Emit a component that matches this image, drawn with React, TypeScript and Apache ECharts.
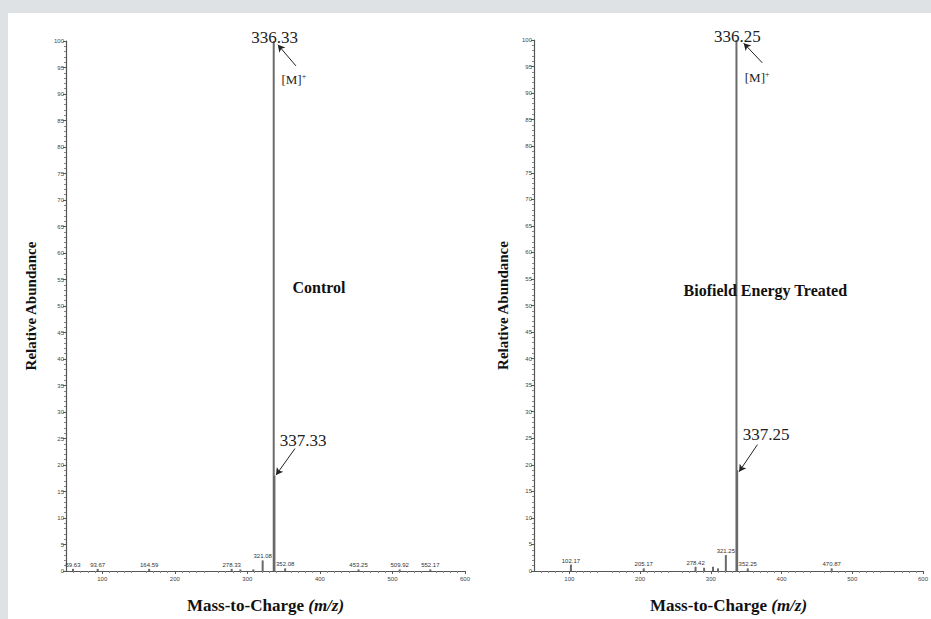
import { useEffect, useRef } from "react";
import * as echarts from "echarts";

// ---------- data ----------
const xTickValues = [100, 200, 300, 400, 500, 600];

// Control spectrum
const controlMz = [59.63, 93.67, 164.59, 278.33, 290.4, 308.2, 321.08, 336.33, 337.33, 352.08, 453.25, 509.92, 552.17];
const controlAbundance = [0.4, 0.4, 0.4, 0.4, 0.3, 0.3, 2.0, 100, 18, 0.5, 0.3, 0.3, 0.3];
const controlSmallLabels = [59.63, 93.67, 164.59, 278.33, 321.08, 352.08, 453.25, 509.92, 552.17];
const controlMain = 336.33;
const controlIsotope = 337.33;

// Biofield Energy Treated spectrum
const treatedMz = [102.17, 205.17, 278.42, 290.5, 303.1, 310.2, 321.25, 336.25, 337.25, 352.25, 470.87];
const treatedAbundance = [1.2, 0.5, 0.8, 0.6, 0.8, 0.5, 3.0, 100, 19, 0.5, 0.5];
const treatedSmallLabels = [102.17, 205.17, 278.42, 321.25, 352.25, 470.87];
const treatedMain = 336.25;
const treatedIsotope = 337.25;

// annotation anchors (data coordinates)
const controlArrowM = [[367, 95.3], [342, 99.3]];
const controlMLabel = [364, 92.7];
const controlIsoArrow = [[365.6, 23.1], [339.5, 18.1]];
const controlIsoLabel = [377, 24.6];
const controlTitlePos = [398.7, 53.4];

const treatedArrowM = [[372.8, 95.7], [346.5, 99.4]];
const treatedMLabel = [365.5, 92.9];
const treatedIsoArrow = [[365.9, 23.8], [340, 18.7]];
const treatedIsoLabel = [378.3, 25.7];
const treatedTitlePos = [377, 52.8];

const SERIF = "'Liberation Serif', 'DejaVu Serif', serif";
const SANS = "'Liberation Sans', Arial, sans-serif";

function buildData(mz: number[], ab: number[], small: number[], main: number) {
  return mz.map((m, i) => {
    const item: any = { value: [m, ab[i]] };
    if (m === main) {
      item.label = {
        show: true,
        position: "top",
        distance: 0,
        offset: [1, 5],
        formatter: m.toFixed(2),
        fontFamily: SERIF,
        fontSize: 17,
        color: "#222",
      };
    } else if (small.includes(m)) {
      item.label = {
        show: true,
        position: "top",
        distance: 1,
        formatter: m.toFixed(2),
        fontFamily: SANS,
        fontSize: 6,
        color: "#333",
      };
    }
    return item;
  });
}

function xAxisFor(gridIndex: number) {
  return {
    gridIndex,
    type: "value",
    min: 50,
    max: 600,
    interval: 50,
    name: "{a|Mass-to-Charge }{b|(m/z)}",
    nameLocation: "middle",
    nameGap: 26,
    nameTextStyle: {
      rich: {
        a: { fontFamily: SERIF, fontSize: 17, fontWeight: "bold", color: "#111" },
        b: { fontFamily: SERIF, fontSize: 17, fontWeight: "bold", fontStyle: "italic", color: "#111" },
      },
    },
    axisLine: { show: true, onZero: false, lineStyle: { color: "#555", width: 1.2 } },
    axisTick: { show: true, customValues: xTickValues, length: 3, lineStyle: { color: "#555" } },
    minorTick: { show: true, splitNumber: 5, length: 2, lineStyle: { color: "#888" } },
    axisLabel: {
      customValues: xTickValues,
      fontFamily: SANS,
      fontSize: 6,
      color: "#444",
      margin: 5,
      formatter: (v: number) => (v % 100 === 0 ? String(v) : ""),
    },
    splitLine: { show: false },
  };
}

function yAxisFor(gridIndex: number, nameGap: number) {
  return {
    gridIndex,
    type: "value",
    min: 0,
    max: 100,
    interval: 5,
    name: "Relative Abundance",
    nameLocation: "middle",
    nameGap,
    nameTextStyle: { fontFamily: SERIF, fontSize: 15, fontWeight: "bold", color: "#111" },
    axisLine: { show: true, onZero: false, lineStyle: { color: "#555", width: 1.2 } },
    axisTick: { show: true, length: 3, lineStyle: { color: "#555" } },
    minorTick: { show: true, splitNumber: 5, length: 2, lineStyle: { color: "#888" } },
    axisLabel: { fontFamily: SANS, fontSize: 6, color: "#444", margin: 2 },
    splitLine: { show: false },
  };
}

function spectrumSeries(
  idx: number,
  mz: number[],
  ab: number[],
  small: number[],
  main: number,
  isotope: number,
  arrowM: number[][],
  mLabel: number[],
  isoArrow: number[][],
  isoLabel: number[],
  titlePos: number[],
  title: string
) {
  return {
    type: "bar",
    xAxisIndex: idx,
    yAxisIndex: idx,
    barWidth: 2,
    barGap: "-100%",
    itemStyle: { color: "#6a6a6a" },
    data: buildData(mz, ab, small, main),
    markLine: {
      silent: true,
      symbol: ["none", "arrow"],
      symbolSize: [6, 7],
      label: { show: false },
      lineStyle: { color: "#222", width: 1, type: "solid" },
      data: [
        [{ coord: arrowM[0] }, { coord: arrowM[1] }],
        [{ coord: isoArrow[0] }, { coord: isoArrow[1] }],
      ],
    },
    markPoint: {
      silent: true,
      symbol: "circle",
      symbolSize: 0,
      data: [
        {
          coord: mLabel,
          label: {
            show: true,
            position: "inside",
            formatter: "{a|[M]}{b|+}",
            rich: {
              a: { fontFamily: SERIF, fontSize: 13, color: "#222" },
              b: { fontFamily: SERIF, fontSize: 8, color: "#222", verticalAlign: "top", padding: [0, 0, 6, 0] },
            },
          },
        },
        {
          coord: isoLabel,
          label: {
            show: true,
            position: "inside",
            formatter: isotope.toFixed(2),
            fontFamily: SERIF,
            fontSize: 17,
            color: "#222",
          },
        },
        {
          coord: titlePos,
          label: {
            show: true,
            position: "inside",
            formatter: title,
            fontFamily: SERIF,
            fontSize: 16,
            fontWeight: "bold",
            color: "#111",
          },
        },
      ],
    },
  };
}

export default function App() {
  const ref = useRef<HTMLDivElement>(null);

  useEffect(() => {
    if (!ref.current) return;
    const chart = echarts.init(ref.current, null, { renderer: "svg" });
    chart.setOption({
      animation: false,
      backgroundColor: "#dee2e4",
      graphic: [
        {
          type: "rect",
          z: -10,
          shape: { x: 8, y: 13, width: 930, height: 620 },
          style: { fill: "#ffffff" },
        },
      ],
      grid: [
        { left: 66, top: 41, width: 399, height: 536 },
        { left: 534, top: 40, width: 397, height: 534 },
      ],
      xAxis: [xAxisFor(0), xAxisFor(1)],
      yAxis: [yAxisFor(0, 28), yAxisFor(1, 24)],
      series: [
        spectrumSeries(0, controlMz, controlAbundance, controlSmallLabels, controlMain, controlIsotope,
          controlArrowM, controlMLabel, controlIsoArrow, controlIsoLabel, controlTitlePos, "Control"),
        spectrumSeries(1, treatedMz, treatedAbundance, treatedSmallLabels, treatedMain, treatedIsotope,
          treatedArrowM, treatedMLabel, treatedIsoArrow, treatedIsoLabel, treatedTitlePos, "Biofield Energy Treated"),
      ],
    });
    return () => chart.dispose();
  }, []);

  return (
    <div
      ref={ref}
      style={{ position: "absolute", left: 0, top: 0, width: 931, height: 619 }}
    />
  );
}
